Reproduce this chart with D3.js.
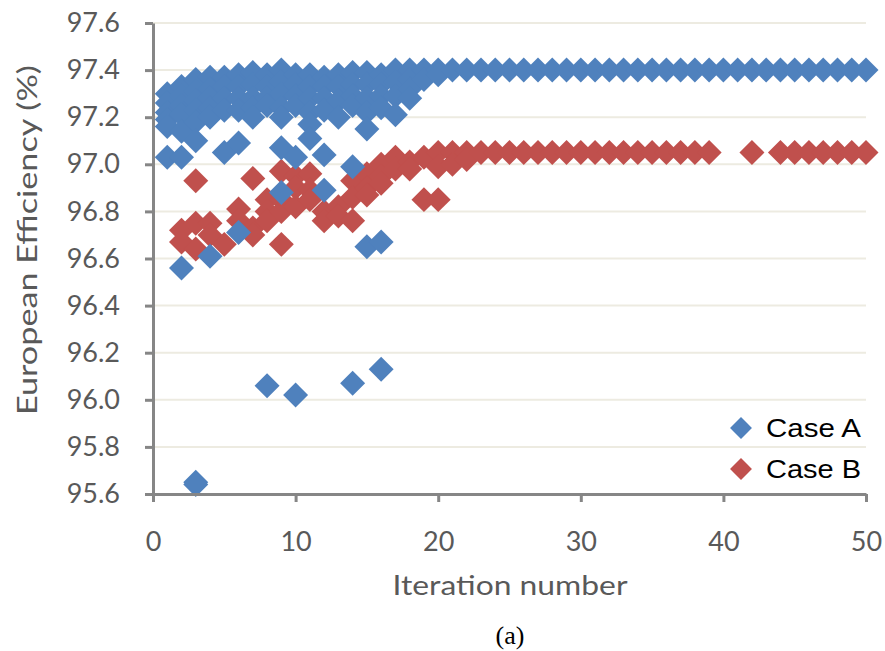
<!DOCTYPE html>
<html><head><meta charset="utf-8">
<script src="https://cdn.jsdelivr.net/npm/d3@7"></script>
<style>body{margin:0;background:#fff} svg{display:block}</style>
</head><body>
<script>
// ---- Data ----
const seriesNames = ["Case A", "Case B"];
const xTicks = [0, 10, 20, 30, 40, 50];
const yTicks = [95.6, 95.8, 96.0, 96.2, 96.4, 96.6, 96.8, 97.0, 97.2, 97.4, 97.6];

const caseAIter = [
  1,1,1,1,1,1,
  2,2,2,2,2,2,2,
  3,3,3,3,3,3,3,3,
  4,4,4,4,4,4,
  5,5,5,5,5,
  6,6,6,6,6,6,
  7,7,7,7,7,
  8,8,8,8,8,
  9,9,9,9,9,9,9,
  10,10,10,10,10,10,
  11,11,11,11,11,11,
  12,12,12,12,12,12,
  13,13,13,13,
  14,14,14,14,14,14,
  15,15,15,15,15,15,
  16,16,16,16,16,16,
  17,17,17,17,
  18,18,18,18,
  19,19,
  20,20,
  21,22,23,24,25,26,27,28,29,30,31,32,33,34,35,36,37,38,39,40,41,42,43,44,45,46,47,48,49,50
];
const caseAEff = [
  97.30,97.26,97.22,97.19,97.16,97.03,
  97.33,97.29,97.25,97.21,97.14,97.03,96.56,
  97.36,97.31,97.27,97.23,97.18,97.10,95.65,95.64,
  97.37,97.32,97.28,97.24,97.20,96.61,
  97.37,97.33,97.28,97.23,97.05,
  97.38,97.33,97.28,97.23,97.09,96.71,
  97.39,97.34,97.28,97.24,97.20,
  97.38,97.33,97.28,97.25,96.06,
  97.40,97.35,97.30,97.24,97.20,97.07,96.88,
  97.38,97.34,97.29,97.25,97.03,96.02,
  97.38,97.33,97.28,97.22,97.17,97.11,
  97.37,97.33,97.28,97.23,97.04,96.89,
  97.38,97.33,97.27,97.20,
  97.39,97.34,97.29,97.25,96.99,96.07,
  97.39,97.34,97.28,97.22,97.15,96.65,
  97.38,97.34,97.29,97.24,96.67,96.13,
  97.40,97.35,97.29,97.21,
  97.40,97.36,97.32,97.28,
  97.40,97.36,
  97.40,97.38,
  97.40,97.40,97.40,97.40,97.40,97.40,97.40,97.40,97.40,97.40,97.40,97.40,97.40,97.40,97.40,
  97.40,97.40,97.40,97.40,97.40,97.40,97.40,97.40,97.40,97.40,97.40,97.40,97.40,97.40,97.40
];

const caseBIter = [
  2,2,
  3,3,3,
  4,4,
  5,
  6,6,
  7,7,7,
  8,8,8,
  9,9,9,9,
  10,10,10,
  11,11,11,
  12,12,
  13,13,
  14,14,14,
  15,15,15,
  16,16,16,
  17,17,
  18,18,
  19,19,
  20,20,20,
  21,21,
  22,22,
  23,24,25,26,27,28,29,30,31,32,33,34,35,36,37,38,39,
  42,
  44,45,46,47,48,49,50
];
const caseBEff = [
  96.72,96.67,
  96.93,96.75,96.64,
  96.75,96.70,
  96.66,
  96.81,96.76,
  96.94,96.73,96.70,
  96.85,96.80,96.76,
  96.97,96.85,96.80,96.66,
  96.95,96.90,96.82,
  96.96,96.89,96.85,
  96.80,96.76,
  96.82,96.78,
  96.93,96.86,96.76,
  96.96,96.90,96.87,
  97.00,96.95,96.92,
  97.03,96.98,
  97.01,96.98,
  97.03,96.85,
  97.05,96.99,96.85,
  97.05,97.00,
  97.05,97.02,
  97.05,97.05,97.05,97.05,97.05,97.05,97.05,97.05,97.05,97.05,97.05,97.05,97.05,97.05,97.05,97.05,97.05,
  97.05,
  97.05,97.05,97.05,97.05,97.05,97.05,97.05
];

// ---- Chart ----
const W = 885, H = 651;
const colors = ["#4F81BD", "#C0504D"];
const x = d3.scaleLinear().domain([0, 50]).range([153, 866]);
const y = d3.scaleLinear().domain([95.6, 97.6]).range([494, 23]);

const svg = d3.select("body").append("svg").attr("width", W).attr("height", H);

// gridlines
svg.append("g").selectAll("line").data(yTicks.filter(d => d > 95.6)).join("line")
  .attr("x1", x(0)).attr("x2", x(50))
  .attr("y1", d => y(d)).attr("y2", d => y(d))
  .attr("stroke", "#EDEBE1").attr("stroke-width", 2);

const tickFont = "Lato, 'Open Sans', sans-serif";

// markers
const diamond = d3.symbol().type(d3.symbolSquare).size(312);
const seriesData = [
  caseBIter.map((it, i) => ({ x: it, y: caseBEff[i], s: 1 })),
  caseAIter.map((it, i) => ({ x: it, y: caseAEff[i], s: 0 }))
];
seriesData.forEach(data => {
  svg.append("g").selectAll("path").data(data).join("path")
    .attr("d", diamond)
    .attr("transform", d => `translate(${x(d.x)},${y(d.y)}) rotate(45)`)
    .attr("fill", d => colors[d.s]);
});

// axes
const yAxis = d3.axisLeft(y).tickValues(yTicks).tickFormat(d3.format(".1f"))
  .tickSize(8).tickSizeOuter(0).tickPadding(25);
const gy = svg.append("g").attr("transform", `translate(${x(0)},0)`).call(yAxis);
const xAxis = d3.axisBottom(x).tickValues(xTicks).tickFormat(d3.format("d"))
  .tickSize(8).tickSizeOuter(0).tickPadding(30);
const gx = svg.append("g").attr("transform", `translate(0,${y(95.6)})`).call(xAxis);
[gx, gy].forEach(g => {
  g.select(".domain").attr("stroke", "#868686").attr("stroke-width", 3);
  g.selectAll(".tick line").attr("stroke", "#868686").attr("stroke-width", 3);
  g.selectAll(".tick text").attr("fill", "#595959")
    .style("font-family", tickFont).style("font-size", "27px");
});

// axis titles
svg.append("text")
  .attr("transform", `translate(37,240) rotate(-90)`)
  .attr("text-anchor", "middle")
  .attr("fill", "#595959")
  .attr("textLength", 350).attr("lengthAdjust", "spacingAndGlyphs")
  .style("font-family", tickFont).style("font-size", "26px")
  .text("European Efficiency (%)");
svg.append("text")
  .attr("x", 510).attr("y", 595)
  .attr("text-anchor", "middle")
  .attr("fill", "#595959")
  .attr("textLength", 235).attr("lengthAdjust", "spacingAndGlyphs")
  .style("font-family", tickFont).style("font-size", "27px")
  .text("Iteration number");
svg.append("text")
  .attr("x", 510).attr("y", 644)
  .attr("text-anchor", "middle")
  .attr("fill", "#000")
  .style("font-family", "'Liberation Serif', serif").style("font-size", "26px")
  .text("(a)");

// legend
const legend = svg.append("g").attr("transform", "translate(741,428)");
seriesNames.forEach((name, i) => {
  const g = legend.append("g").attr("transform", `translate(0,${i * 41})`);
  g.append("path").attr("d", d3.symbol().type(d3.symbolSquare).size(240))
    .attr("transform", "rotate(45)").attr("fill", colors[i]);
  g.append("text").attr("x", 25).attr("y", 9)
    .attr("fill", "#000")
    .attr("textLength", 95).attr("lengthAdjust", "spacingAndGlyphs")
    .style("font-family", "'Liberation Sans', Arial, sans-serif").style("font-size", "25px")
    .text(name);
});
</script>
</body></html>
